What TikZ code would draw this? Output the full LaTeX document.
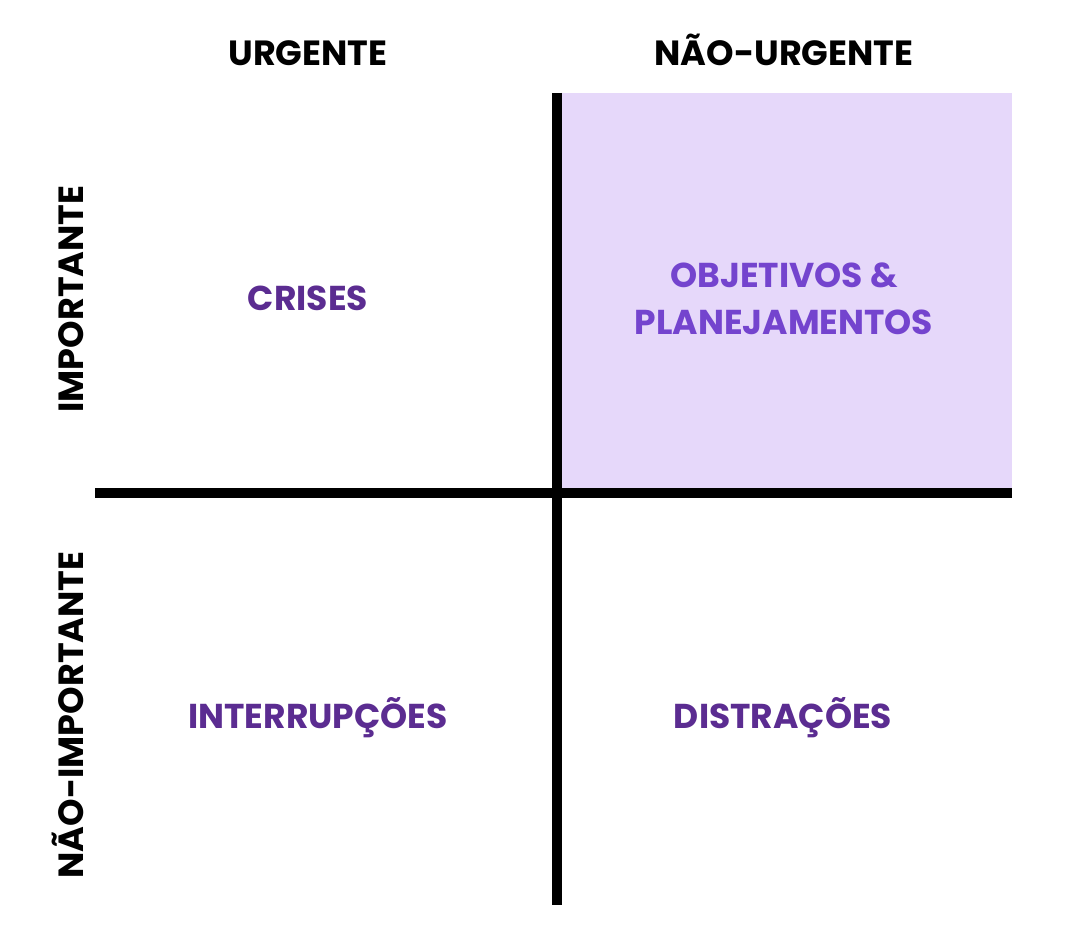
\documentclass[tikz,border=0pt]{standalone}
\usepackage{fontspec}
\setmainfont{Poppins}
\usepackage{tikz}
\usepackage{xcolor}
\usetikzlibrary{positioning}
\definecolor{deeppurple}{RGB}{91, 44, 145}
\definecolor{brightpurple}{RGB}{116, 68, 206}
\definecolor{lavender}{RGB}{230, 216, 250}

\begin{document}
\begin{tikzpicture}[
  x=1pt, y=-1pt,
  header/.style={font=\fontsize{35}{40}\selectfont\bfseries, text=black,
    text height=24.5pt, text depth=0pt, inner sep=0pt},
  quadrant/.style={font=\fontsize{34.5}{47}\selectfont\bfseries, text=deeppurple,
    text height=24pt, text depth=0pt, inner sep=0pt},
  axis/.style={line width=10pt, draw=black}
]
  \useasboundingbox (0,0) rectangle (1070,936);

  % Highlighted quadrant
  \fill[lavender] (557,93) rectangle (1012,493);

  % Axes
  \coordinate (top) at (557,93);
  \coordinate (bottom) at (557,905);
  \coordinate (left) at (95,493);
  \coordinate (right) at (1012,493);
  \draw[axis] (top) -- (bottom);
  \draw[axis] (left) -- (right);

  % Column headers
  \node[header] (urg) at (308,53) {URGENTE};
  \node[header] (nurg) at (784,53) {NÃO-URGENTE};

  % Row headers
  \node[header, rotate=90] (imp) at (71,299) {IMPORTANTE};
  \node[header, rotate=90] (nimp) at (71,715) {NÃO-IMPORTANTE};

  % Quadrants
  \node[quadrant] (crises) at (308,298) {CRISES};
  \node[quadrant, text=brightpurple] (obj) at (784,275) {OBJETIVOS \&};
  \node[quadrant, text=brightpurple, below=23pt of obj] (plan) {PLANEJAMENTOS};
  \node[quadrant] (inter) at (318,716) {INTERRUPÇÕES};
  \node[quadrant] (dist) at (783,716) {DISTRAÇÕES};
\end{tikzpicture}
\end{document}
